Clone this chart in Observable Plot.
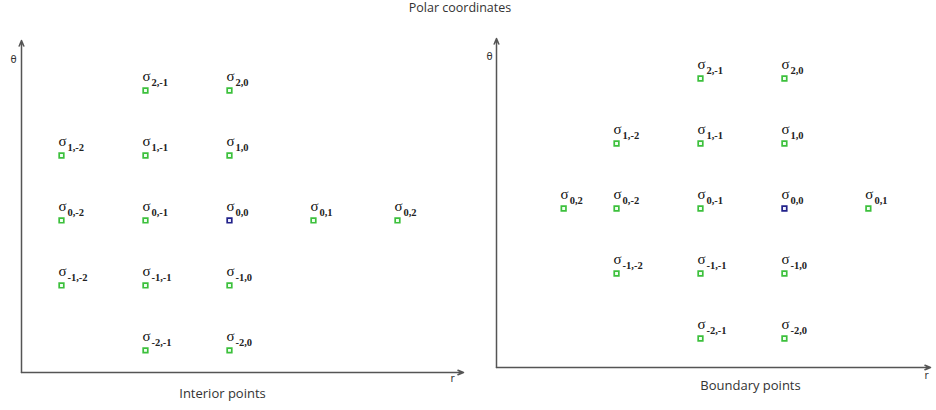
<!DOCTYPE html>
<html>
<head>
<meta charset="utf-8">
<script src="https://cdn.jsdelivr.net/npm/d3@7"></script>
<script src="https://cdn.jsdelivr.net/npm/@observablehq/plot@0.6"></script>
<style>
  body { margin: 0; background: #fff; font-family: "Open Sans", sans-serif; }
  #title { width: 920px; height: 16px; line-height: 16px; font-size: 12.5px; text-align: center; color: #333; }
  #row { display: flex; }
</style>
</head>
<body>
<div id="title">Polar coordinates</div>
<div id="row"></div>
<script>
// Interior stencil: σ(i,j) drawn at row θ = i, column r = j
const interiorI     = [2, 2, 1, 1, 1, 0, 0, 0, 0, 0, -1, -1, -1, -2, -2];
const interiorJ     = [-1, 0, -2, -1, 0, -2, -1, 0, 1, 2, -2, -1, 0, -1, 0];
const interiorTheta = [2, 2, 1, 1, 1, 0, 0, 0, 0, 0, -1, -1, -1, -2, -2];
const interiorR     = [-1, 0, -2, -1, 0, -2, -1, 0, 1, 2, -2, -1, 0, -1, 0];

// Boundary stencil: σ(0,2) wraps around to the far side of the r direction
const boundaryI     = [2, 2, 1, 1, 1, 0, 0, 0, 0, 0, -1, -1, -1, -2, -2];
const boundaryJ     = [-1, 0, -2, -1, 0, 2, -2, -1, 0, 1, -2, -1, 0, -1, 0];
const boundaryTheta = [2, 2, 1, 1, 1, 0, 0, 0, 0, 0, -1, -1, -1, -2, -2];
const boundaryR     = [-1, 0, -2, -1, 0, -2.63, -2, -1, 0, 1, -2, -1, 0, -1, 0];

// Axis extents (r, θ) of each panel
const interiorRDomain     = [-2.476, 2.786];
const interiorThetaDomain = [-2.34, 2.77];
const boundaryRDomain     = [-3.43, 1.74];
const boundaryThetaDomain = [-2.446, 2.615];

const GREEN = "#3cc03c";
const BLUE = "#22228a";

function panel(o) {
  const pts = o.theta.map((t, k) => ({
    theta: t,
    r: o.r[k],
    sub: `${o.i[k]},${o.j[k]}`,
    center: o.i[k] === 0 && o.j[k] === 0
  }));
  const [x0, x1] = o.xDomain;
  const [y0, y1] = o.yDomain;
  const axes = [
    {x1: x0, y1: y0, x2: x1, y2: y0},
    {x1: x0, y1: y0, x2: x0, y2: y1}
  ];
  return Plot.plot({
    width: o.width,
    height: 394,
    marginLeft: o.marginLeft,
    marginRight: o.marginRight,
    marginTop: o.marginTop,
    marginBottom: o.marginBottom,
    x: {domain: o.xDomain, axis: null},
    y: {domain: o.yDomain, axis: null},
    style: {background: "transparent", overflow: "visible"},
    marks: [
      Plot.arrow(axes, {
        x1: "x1", y1: "y1", x2: "x2", y2: "y2",
        stroke: "#555", strokeWidth: 1.5, headLength: 6, headAngle: 45
      }),
      Plot.dot(pts, {
        filter: d => !d.center,
        x: "r", y: "theta", symbol: "square", r: 2.6,
        stroke: GREEN, fill: "#f2fff2", strokeWidth: 1.7
      }),
      Plot.dot(pts, {
        filter: d => d.center,
        x: "r", y: "theta", symbol: "square", r: 2.6,
        stroke: BLUE, fill: "#f2f2ff", strokeWidth: 1.7
      }),
      Plot.text(pts, {
        x: "r", y: "theta", text: () => "σ", dx: 1, dy: -14,
        fontFamily: "Liberation Serif", fontSize: 15, fill: "#111"
      }),
      Plot.text(pts, {
        x: "r", y: "theta", text: "sub", dx: 6, dy: -8, textAnchor: "start",
        fontFamily: "Liberation Serif", fontWeight: "bold", fontSize: 10.5, fill: "#222"
      }),
      Plot.text(["θ"], {
        frameAnchor: "top-left", dx: o.thetaDx, dy: o.thetaDy,
        fontFamily: "DejaVu Sans", fontSize: 10, fill: "#333"
      }),
      Plot.text(["r"], {
        frameAnchor: "bottom-right", dx: o.rDx, dy: o.rDy,
        fontFamily: "DejaVu Sans", fontSize: 10, fill: "#333"
      }),
      Plot.text([o.caption], {
        frameAnchor: "bottom", dx: o.capDx, dy: o.capDy,
        fontFamily: "Open Sans", fontSize: 13, fill: "#333"
      })
    ]
  });
}

const row = document.getElementById("row");

row.append(panel({
  theta: interiorTheta, r: interiorR, i: interiorI, j: interiorJ,
  xDomain: interiorRDomain, yDomain: interiorThetaDomain,
  width: 475, marginLeft: 21, marginRight: 12, marginTop: 24, marginBottom: 38,
  thetaDx: -11, thetaDy: 15, rDx: -9, rDy: 9,
  caption: "Interior points", capDx: -20, capDy: 25
}));

row.append(panel({
  theta: boundaryTheta, r: boundaryR, i: boundaryI, j: boundaryJ,
  xDomain: boundaryRDomain, yDomain: boundaryThetaDomain,
  width: 461, marginLeft: 21, marginRight: 6, marginTop: 22, marginBottom: 43,
  thetaDx: -10, thetaDy: 14, rDx: -2, rDy: 11,
  caption: "Boundary points", capDx: 37, capDy: 22
}));
</script>
</body>
</html>
